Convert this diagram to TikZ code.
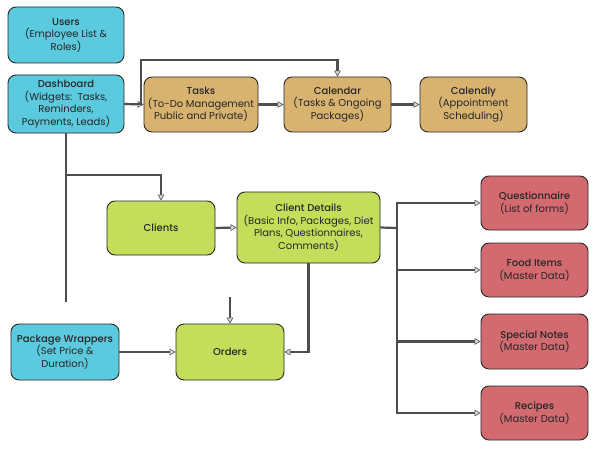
\documentclass[tikz,border=0pt]{standalone}
\usepackage{fontspec}
\setmainfont{Poppins}[BoldFont={Poppins Medium}]
\usepackage{tikz}
\usetikzlibrary{arrows.meta}
\usetikzlibrary{positioning}

\definecolor{boxcyan}{RGB}{92,202,222}
\definecolor{boxtan}{RGB}{216,179,112}
\definecolor{boxlime}{RGB}{196,222,92}
\definecolor{boxred}{RGB}{211,106,112}
\definecolor{boxline}{RGB}{40,40,40}
\definecolor{connline}{RGB}{78,78,78}

\begin{document}
\begin{tikzpicture}[x=1pt,y=-1pt,
  box/.style={rectangle,rounded corners=8pt,draw=boxline,line width=0.9pt,align=center,
    font=\fontsize{10}{12.5}\selectfont,text=black!85,inner sep=2pt},
  cyanbox/.style={box,fill=boxcyan},
  tanbox/.style={box,fill=boxtan},
  limebox/.style={box,fill=boxlime},
  redbox/.style={box,fill=boxred},
  link/.style={draw=connline,line width=2.2pt},
  conn/.style={link,-{Triangle[length=6pt,width=6.5pt,fill=gray!30,line width=0.6pt]}}]
\useasboundingbox[fill=white] (0,0) rectangle (600,452);

\node[cyanbox,minimum width=116pt,minimum height=56pt] (users) at (66,35) {\textbf{Users}\\(Employee List \&\\Roles)};
\node[cyanbox,minimum width=116pt,minimum height=58pt] (dash) at (66,104) {\textbf{Dashboard}\\(Widgets:\ \ Tasks,\\Reminders,\\Payments, Leads)};
\node[tanbox,minimum width=114pt,minimum height=55pt] (tasks) at (201,104.5) {\textbf{Tasks}\\(To-Do Management\\Public and Private)};
\node[tanbox,minimum width=107pt,minimum height=55pt] (cal) at (337.5,104.5) {\textbf{Calendar}\\(Tasks \& Ongoing\\Packages)};
\node[tanbox,minimum width=107pt,minimum height=55pt] (cally) at (473.5,104.5) {\textbf{Calendly}\\(Appointment\\Scheduling)};

\node[limebox,minimum width=108pt,minimum height=54pt] (clients) at (161,228) {\textbf{Clients}};
\node[limebox,minimum width=143pt,minimum height=71pt] (details) at (308.5,227.5) {\textbf{Client Details}\\(Basic Info, Packages, Diet\\Plans, Questionnaires,\\Comments)};

\node[redbox,minimum width=107pt,minimum height=54pt] (quest) at (534.5,203) {\textbf{Questionnaire}\\(List of forms)};
\node[redbox,minimum width=107pt,minimum height=54pt] (food) at (534.5,270) {\textbf{Food Items}\\(Master Data)};
\node[redbox,minimum width=107pt,minimum height=55pt] (notes) at (534.5,341.5) {\textbf{Special Notes}\\(Master Data)};
\node[redbox,minimum width=107pt,minimum height=54pt] (recipes) at (534.5,413) {\textbf{Recipes}\\(Master Data)};

\node[cyanbox,minimum width=108pt,minimum height=56pt] (pkg) at (65,352) {\textbf{Package Wrappers}\\(Set Price \&\\Duration)};
\node[limebox,minimum width=108pt,minimum height=56pt] (orders) at (230,352) {\textbf{Orders}};

\coordinate (calup) at (141,60);
\coordinate (clturn) at (161,175);
\coordinate (dashend) at (66,302);
\coordinate (ordin) at (230,297);
\coordinate (brk) at (397,228);

\draw[conn] (dash.east) -- (tasks.west);
\draw[conn] (tasks.east) -- (cal.west);
\draw[conn] (cal.east) -- (cally.west);
\draw[conn] (dash.east) -| (calup) -| (cal.north);
\draw[link] (dash.south) -- (dashend);
\draw[conn] (dash.south) |- (clturn) -- (clients.north);
\draw[conn] (clients.east) -- (details.west);
\draw[conn] (details.south) |- (orders.east);
\draw[conn] (ordin) -- (orders.north);
\draw[conn] (pkg.east) -- (orders.west);
\draw[link] (details.east) -- (brk);
\draw[conn] (brk) |- (quest.west);
\draw[conn] (brk) |- (food.west);
\draw[conn] (brk) |- (notes.west);
\draw[conn] (brk) |- (recipes.west);

\end{tikzpicture}
\end{document}
